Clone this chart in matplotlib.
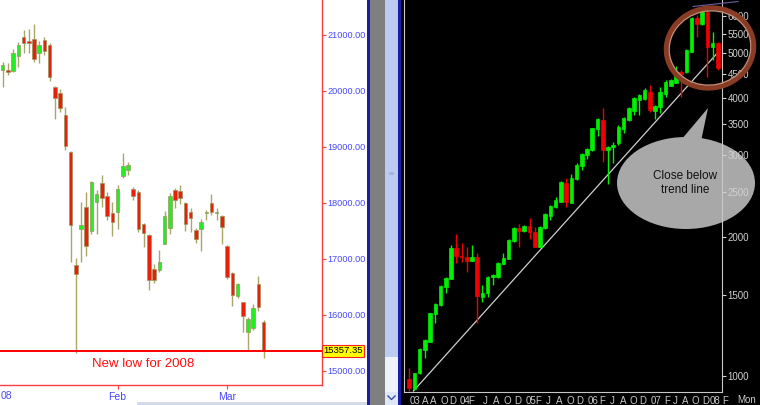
"""Two candlestick panels: daily Sensex (left) and monthly Nifty on a log scale (right)."""

import matplotlib

matplotlib.use("Agg")
import matplotlib.pyplot as plt
import numpy as np
from matplotlib.patches import Ellipse, Polygon, Rectangle
from matplotlib.ticker import NullLocator
from matplotlib.transforms import Affine2D, blended_transform_factory

plt.rcParams["font.family"] = ["Liberation Sans", "DejaVu Sans"]

# ---- left panel: daily candles, late Dec 2007 .. mid Mar 2008 ----
L_OPEN = [20375, 20375, 20357, 20630, 20959, 20893, 20923, 20684, 20911, 20821,
          20077, 19970, 19571, 18916, 16893, 17530, 17923, 17505, 18012, 18352,
          18130, 17816, 17834, 18488, 18589, 18250, 18202, 17620, 17429, 16816,
          16804, 17268, 17548, 18232, 18214, 17995, 17834, 17518, 17530, 17827,
          17995, 17830, 17768, 17232, 16755, 16345, 16227, 15691, 15763, 16554,
          15880]
L_HIGH = [20523, 20505, 20745, 20870, 21089, 21102, 21196, 20898, 20959, 20863,
          20089, 20030, 19720, 18929, 17012, 18012, 18202, 18393, 18232, 18500,
          18191, 18023, 18321, 18898, 18737, 18286, 18232, 17638, 17446, 16911,
          17161, 17857, 18173, 18273, 18321, 18023, 17905, 17548, 17709, 17875,
          18161, 17905, 17786, 17250, 16768, 16577, 16238, 15970, 16196, 16696,
          15911]
L_LOW = [20071, 20286, 20345, 20434, 20684, 20684, 20523, 20505, 20643, 20184,
         19500, 19630, 18946, 16941, 15330, 16941, 17059, 17441, 17441, 17934,
         17697, 17416, 17536, 18441, 18500, 18054, 17487, 17209, 16446, 16566,
         16773, 17268, 17446, 17905, 17982, 17505, 17487, 17291, 17143, 17696,
         17786, 17696, 17268, 16637, 16166, 16298, 15702, 15362, 15732, 16077,
         15227]
L_CLOSE = [20464, 20339, 20673, 20821, 20863, 20863, 20566, 20821, 20714, 20255,
           19870, 19691, 19018, 17607, 16732, 17607, 17232, 18370, 18155, 18084,
           17773, 17666, 18250, 18666, 18679, 18130, 17530, 17470, 16625, 16625,
           16952, 17768, 18125, 18054, 18084, 17620, 17737, 17352, 17666, 17845,
           17845, 17836, 17566, 16684, 16357, 16554, 15982, 15923, 16120, 16148,
           15362]
L_YTICKS = [15000, 16000, 17000, 18000, 19000, 20000, 21000]
L_XTICK_POS = [22, 43]
L_XTICK_LABELS = ["Feb", "Mar"]
NEW_LOW = 15357.35

# ---- right panel: monthly candles, Apr 2003 .. Mar 2008 ----
R_OPEN = [985, 936, 1013, 1138, 1186, 1362, 1424, 1560, 1619, 1888,
          1817, 1806, 1776, 1806, 1484, 1509, 1634, 1639, 1747, 1788,
          1961, 2093, 2062, 2113, 2051, 1904, 2086, 2218, 2317, 2382,
          2618, 2370, 2663, 2845, 3005, 3082, 3415, 3578, 3082, 3131,
          3185, 3415, 3578, 3747, 3952, 3966, 4120, 3747, 3823, 4071,
          4237, 4307, 4543, 4549, 5027, 5934, 5768, 6134, 5152, 5256]
R_HIGH = [1039, 1017, 1148, 1200, 1370, 1436, 1573, 1634, 1919, 2028,
          1942, 1904, 1919, 1848, 1573, 1645, 1662, 1767, 1842, 1975,
          2097, 2131, 2121, 2193, 2097, 2109, 2248, 2344, 2442, 2644,
          2676, 2734, 2884, 3030, 3107, 3443, 3607, 3792, 3142, 3211,
          3489, 3636, 3811, 4017, 4067, 4190, 4258, 3856, 4209, 4365,
          4380, 4681, 4588, 5087, 5982, 6033, 6186, 6343, 5553, 5274]
R_LOW = [929, 933, 1010, 1092, 1186, 1300, 1417, 1514, 1619, 1753,
         1767, 1681, 1776, 1300, 1448, 1480, 1573, 1626, 1747, 1788,
         1951, 1904, 2051, 1975, 1898, 1898, 2076, 2175, 2305, 2382,
         2317, 2363, 2653, 2789, 2941, 3071, 3303, 2906, 2601, 2892,
         3158, 3348, 3565, 3667, 3667, 3952, 3728, 3590, 3698, 4017,
         4237, 4294, 4017, 4512, 5027, 5416, 5740, 4437, 4823, 4588]
R_CLOSE = [941, 1013, 1144, 1196, 1366, 1429, 1565, 1626, 1888, 1817,
           1806, 1776, 1806, 1489, 1514, 1639, 1653, 1758, 1797, 1968,
           2086, 2062, 2113, 2051, 1904, 2103, 2240, 2332, 2402, 2623,
           2382, 2676, 2860, 3020, 3092, 3432, 3590, 3082, 3131, 3158,
           3460, 3607, 3792, 3985, 4053, 4155, 3760, 3837, 4120, 4328,
           4365, 4549, 4498, 5069, 5934, 5768, 6134, 5152, 5256, 4627]
R_YTICKS = [1000, 1500, 2000, 2500, 3000, 3500, 4000, 4500, 5000, 5500, 6000]
R_XLABEL_POS = [1.2, 3.1, 4.6, 6.7, 8.3, 10.6, 11.9, 14.6, 16.7, 18.8, 20.7,
                23.2, 24.7, 26.6, 28.7, 30.8, 32.7, 35.2, 36.9, 38.8, 40.9,
                42.8, 44.7, 47.2, 49.3, 50.9, 52.8, 54.7, 56.6, 58.5, 60.4]
R_XLABELS = ["03", "A", "A", "O", "D", "04", "F", "J", "A", "O", "D",
             "05", "F", "J", "A", "O", "D", "06", "F", "J", "A",
             "O", "D", "07", "F", "J", "A", "O", "D", "08", "F"]
TREND_X = [0.8, 59.5]
TREND_Y = [928, 5080]

W, H = 760, 405
fig = plt.figure(figsize=(W / 100, H / 100), dpi=100, facecolor="white")
# pixel coordinates measured from the top-left corner of the image
px = Affine2D().scale(1 / W, -1 / H).translate(0, 1) + fig.transFigure


def strip(x0, x1, y0, y1, color):
    fig.patches.append(Rectangle((x0, y0), x1 - x0, y1 - y0, transform=px,
                                 facecolor=color, edgecolor="none", zorder=-5))


# window chrome between the two panels
strip(366.5, 369.5, 0, H, "#1c1caa")
strip(369.5, 385, 0, H, "#7f7f7f")
strip(385, 398, 0, 357, "#bccbf2")
strip(385, 398, 357, 392, "#eef2fa")
strip(385, 398, 392, H, "#dfe6f5")
strip(389, 394, 172, 175, "#a3b4de")
strip(397.5, 400.5, 0, H, "#1c1caa")
strip(400.5, W, 0, H, "black")
strip(137, 366.5, 402, H, "#d4dcea")


def candles(ax, o, h, l, c, up, down, wick_up, wick_down, edge, width):
    o, h, l, c = map(np.asarray, (o, h, l, c))
    x = np.arange(len(o))
    rising = c >= o
    ax.vlines(x, l, h, colors=np.where(rising, wick_up, wick_down), lw=1, zorder=2)
    ax.bar(x, np.abs(c - o), bottom=np.minimum(o, c), width=width,
           color=np.where(rising, up, down),
           edgecolor=edge if edge else np.where(rising, up, down),
           linewidth=0.5, zorder=2.2)


# ---- left panel ----
ax1 = fig.add_axes([0, 20 / H, 322 / W, 385 / H])
ax1.set_facecolor("white")
candles(ax1, L_OPEN, L_HIGH, L_LOW, L_CLOSE, "#22ee22", "#e8200a",
        "#aaa66a", "#aaa66a", "#9a9660", 0.68)
ax1.axhline(NEW_LOW, color="#ff0000", lw=1.4, zorder=3)
ax1.set_xlim(-0.517, 61.17)
ax1.set_ylim(14750, 21625)
ax1.yaxis.tick_right()
ax1.set_yticks(L_YTICKS)
ax1.set_yticklabels([f"{v:.2f}" for v in L_YTICKS])
ax1.set_xticks(L_XTICK_POS)
ax1.set_xticklabels(L_XTICK_LABELS)
ax1.tick_params(axis="y", colors="#ff4040", labelcolor="#4848ff", length=3,
                width=0.8, pad=1, labelsize=6.6)
ax1.tick_params(axis="x", colors="#ff4040", labelcolor="#4848ff", length=3,
                width=0.8, pad=2, labelsize=7.5)
for side in ("top", "left"):
    ax1.spines[side].set_visible(False)
for side in ("right", "bottom"):
    ax1.spines[side].set_color("#ff4040")
    ax1.spines[side].set_linewidth(1)
ax1.text(1.004, NEW_LOW, f"{NEW_LOW:.2f}",
         transform=blended_transform_factory(ax1.transAxes, ax1.transData),
         ha="left", va="center", fontsize=6.8, color="black", zorder=6,
         bbox=dict(boxstyle="square,pad=0.15", fc="#ffff00", ec="#ff2020", lw=0.8))
ax1.text(143, 364, "New low for 2008", transform=px, ha="center", va="center",
         fontsize=9.5, color="#ff1010")
ax1.text(0.5, 396, "08", transform=px, ha="left", va="center",
         fontsize=7.5, color="#4848ff", clip_on=False)

# ---- right panel ----
ax2 = fig.add_axes([404.5 / W, 13 / H, 317.5 / W, 392 / H])
ax2.set_facecolor("black")
ax2.set_yscale("log")
candles(ax2, R_OPEN, R_HIGH, R_LOW, R_CLOSE, "#00f000", "#f00000",
        "#00f000", "#f00000", None, 0.7)
ax2.plot(TREND_X, TREND_Y, color="#cfcfcf", lw=0.9, zorder=1.1)
ax2.set_xlim(-0.9, 59.8)
ax2.set_ylim(923.6, 6502)
ax2.yaxis.tick_right()
ax2.set_yticks(R_YTICKS)
ax2.set_yticklabels([str(v) for v in R_YTICKS])
ax2.yaxis.set_minor_locator(NullLocator())
ax2.set_xticks([])
ax2.tick_params(axis="y", colors="#d0d0d0", length=3, width=0.8, pad=1,
                labelsize=7)
ax2.spines["top"].set_visible(False)
for side in ("left", "right", "bottom"):
    ax2.spines[side].set_color("#c8c8c8")
    ax2.spines[side].set_linewidth(0.8)
xlab = blended_transform_factory(ax2.transData, ax2.transAxes)
for pos, lab in zip(R_XLABEL_POS, R_XLABELS):
    ax2.text(pos, -0.009, lab, transform=xlab, ha="center", va="top",
             fontsize=7, color="#c8c8c8", clip_on=False)
ax2.text(747, 400, "Mon", transform=px, ha="center", va="center",
         fontsize=7, color="#c8c8c8")

# speech bubble
ax2.add_artist(Ellipse((686, 183), 138, 92, transform=px, fc="#a8a8a8",
                       ec="none", zorder=1.2, clip_on=False))
ax2.add_artist(Polygon([(676, 146), (700, 146), (708, 108)], closed=True,
                       transform=px, fc="#a8a8a8", ec="none", zorder=1.2,
                       clip_on=False))
ax2.text(685, 183, "Close below\ntrend line", transform=px, ha="center",
         va="center", fontsize=8.5, color="#111111", linespacing=1.2,
         zorder=1.3)

# hand-drawn ring round the top
ax2.add_artist(Ellipse((710, 48), 88, 80, angle=-12, transform=px, fc="none",
                       ec="#8a3b24", lw=3.5, zorder=5, clip_on=False))
ax2.add_artist(Ellipse((710, 48), 82, 74, angle=-12, transform=px, fc="none",
                       ec="#c58d78", lw=1.0, zorder=5, clip_on=False))
ax2.plot([693, 738], [6.5, 1.5], transform=px, color="#7060a0", lw=0.8,
         zorder=5, clip_on=False)

# scrollbar arrow
ax2.plot([388, 391.5, 395], [396, 399.5, 396], transform=px, color="#3050a0",
         lw=1, clip_on=False)

fig.savefig("out.png", dpi=100, facecolor="white")
